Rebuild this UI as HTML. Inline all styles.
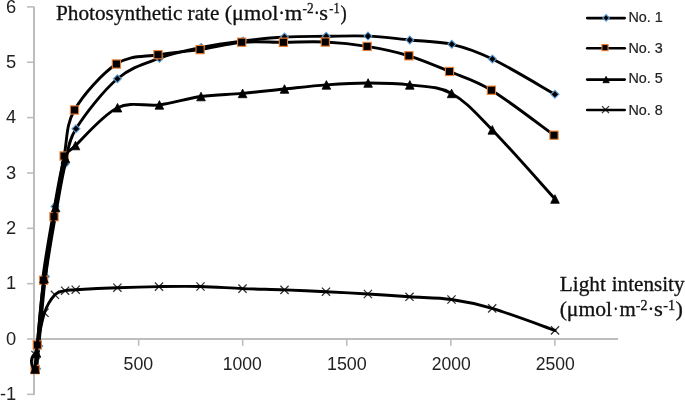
<!DOCTYPE html>
<html><head><meta charset="utf-8"><style>
html,body{margin:0;padding:0;background:#fff;}
body{width:685px;height:400px;overflow:hidden;position:relative;}
svg{position:absolute;left:0;top:0;will-change:transform;}
.ax{stroke:#bdbdbd;stroke-width:2;fill:none;}
.tk{stroke:#bdbdbd;stroke-width:1.6;fill:none;}
.ln{stroke:#000;stroke-width:2.9;fill:none;stroke-linejoin:round;stroke-linecap:round;}
.lg{stroke:#000;stroke-width:2.6;fill:none;stroke-linecap:round;}
.dm{fill:#000;stroke:#5b9bd5;stroke-width:1.1;}
.sq{fill:#000;stroke:#ed7d31;stroke-width:1.1;}
.tr{fill:#000;stroke:#000;stroke-width:0.8;}
.xm{stroke:#333;stroke-width:1.3;fill:none;}
.yl{font-family:"Liberation Sans",sans-serif;font-size:18.3px;fill:#222;text-anchor:end;}
.xl{font-family:"Liberation Sans",sans-serif;fill:#222;}
.lt{font-family:"Liberation Sans",sans-serif;fill:#222;stroke:#222;stroke-width:0.2px;}
.tt{font-family:"Liberation Serif",serif;font-size:20px;fill:#111;stroke:#111;stroke-width:0.3px;}
.sup{font-size:13px;}
</style></head><body>
<svg width="685" height="400" viewBox="0 0 685 400">
<line x1="34" y1="6.75" x2="34" y2="395" class="ax"/>
<line x1="33" y1="339" x2="618" y2="339" class="ax"/>
<line x1="27" y1="394.35" x2="34" y2="394.35" class="tk"/>
<line x1="27" y1="339.00" x2="34" y2="339.00" class="tk"/>
<line x1="27" y1="283.65" x2="34" y2="283.65" class="tk"/>
<line x1="27" y1="228.30" x2="34" y2="228.30" class="tk"/>
<line x1="27" y1="172.95" x2="34" y2="172.95" class="tk"/>
<line x1="27" y1="117.60" x2="34" y2="117.60" class="tk"/>
<line x1="27" y1="62.25" x2="34" y2="62.25" class="tk"/>
<line x1="27" y1="6.90" x2="34" y2="6.90" class="tk"/>
<line x1="138.65" y1="339" x2="138.65" y2="345.8" class="tk"/>
<line x1="242.70" y1="339" x2="242.70" y2="345.8" class="tk"/>
<line x1="346.75" y1="339" x2="346.75" y2="345.8" class="tk"/>
<line x1="450.80" y1="339" x2="450.80" y2="345.8" class="tk"/>
<line x1="554.85" y1="339" x2="554.85" y2="345.8" class="tk"/>
<path d="M31.40 350.90L39.60 359.10M31.40 359.10L39.60 350.90" class="xm"/>
<path d="M33.20 340.90L41.40 349.10M33.20 349.10L41.40 340.90" class="xm"/>
<path d="M40.40 308.65L48.60 316.85M40.40 316.85L48.60 308.65" class="xm"/>
<path d="M50.80 290.70L59.00 298.90M50.80 298.90L59.00 290.70" class="xm"/>
<path d="M61.00 286.60L69.20 294.80M61.00 294.80L69.20 286.60" class="xm"/>
<path d="M71.60 285.60L79.80 293.80M71.60 293.80L79.80 285.60" class="xm"/>
<path d="M113.30 283.60L121.50 291.80M113.30 291.80L121.50 283.60" class="xm"/>
<path d="M154.90 282.50L163.10 290.70M154.90 290.70L163.10 282.50" class="xm"/>
<path d="M196.40 282.40L204.60 290.60M196.40 290.60L204.60 282.40" class="xm"/>
<path d="M238.40 284.50L246.60 292.70M238.40 292.70L246.60 284.50" class="xm"/>
<path d="M280.40 285.80L288.60 294.00M280.40 294.00L288.60 285.80" class="xm"/>
<path d="M321.90 287.60L330.10 295.80M321.90 295.80L330.10 287.60" class="xm"/>
<path d="M363.80 289.90L372.00 298.10M363.80 298.10L372.00 289.90" class="xm"/>
<path d="M405.40 292.70L413.60 300.90M405.40 300.90L413.60 292.70" class="xm"/>
<path d="M447.40 295.40L455.60 303.60M447.40 303.60L455.60 295.40" class="xm"/>
<path d="M488.10 304.30L496.30 312.50M488.10 312.50L496.30 304.30" class="xm"/>
<path d="M550.90 326.30L559.10 334.50M550.90 334.50L559.10 326.30" class="xm"/>
<path d="M35.50 355.00 C35.80 353.33 35.80 352.04 37.30 345.00 C38.80 337.96 41.57 321.12 44.50 312.75 C47.43 304.38 51.47 298.48 54.90 294.80 C58.33 291.12 61.63 291.55 65.10 290.70 C68.57 289.85 66.98 290.20 75.70 289.70 C84.42 289.20 103.52 288.22 117.40 287.70 C131.28 287.18 145.15 286.80 159.00 286.60 C172.85 286.40 186.58 286.17 200.50 286.50 C214.42 286.83 228.50 288.03 242.50 288.60 C256.50 289.17 270.58 289.38 284.50 289.90 C298.42 290.42 312.10 291.02 326.00 291.70 C339.90 292.38 353.98 293.15 367.90 294.00 C381.82 294.85 395.57 295.88 409.50 296.80 C423.43 297.72 437.72 297.57 451.50 299.50 C465.28 301.43 474.95 303.25 492.20 308.40 C509.45 313.55 544.53 326.73 555.00 330.40" class="ln"/>
<path d="M36.70 368.70 C37.05 364.92 37.35 361.37 38.80 346.00 C40.25 330.63 42.70 299.75 45.40 276.50 C48.10 253.25 51.73 225.25 55.00 206.50 C58.27 187.75 61.50 176.95 65.00 164.00 C68.50 151.05 67.27 143.01 76.00 128.80 C84.73 114.59 103.48 90.52 117.40 78.75 C131.32 66.98 145.53 63.41 159.50 58.20 C173.47 52.99 187.28 50.37 201.20 47.50 C215.12 44.63 229.12 42.75 243.00 41.00 C256.88 39.25 270.63 37.78 284.50 37.00 C298.37 36.22 312.28 36.45 326.20 36.30 C340.12 36.15 354.07 35.48 368.00 36.10 C381.93 36.72 395.83 38.63 409.80 40.00 C423.77 41.37 438.03 41.13 451.80 44.30 C465.57 47.47 475.22 50.67 492.40 59.00 C509.58 67.33 544.48 88.42 554.90 94.30" class="ln"/>
<path d="M36.70 364.75L40.65 368.70L36.70 372.65L32.75 368.70Z" class="dm"/>
<path d="M38.80 342.05L42.75 346.00L38.80 349.95L34.85 346.00Z" class="dm"/>
<path d="M45.40 272.55L49.35 276.50L45.40 280.45L41.45 276.50Z" class="dm"/>
<path d="M55.00 202.55L58.95 206.50L55.00 210.45L51.05 206.50Z" class="dm"/>
<path d="M65.00 160.05L68.95 164.00L65.00 167.95L61.05 164.00Z" class="dm"/>
<path d="M76.00 124.85L79.95 128.80L76.00 132.75L72.05 128.80Z" class="dm"/>
<path d="M117.40 74.80L121.35 78.75L117.40 82.70L113.45 78.75Z" class="dm"/>
<path d="M159.50 54.25L163.45 58.20L159.50 62.15L155.55 58.20Z" class="dm"/>
<path d="M201.20 43.55L205.15 47.50L201.20 51.45L197.25 47.50Z" class="dm"/>
<path d="M243.00 37.05L246.95 41.00L243.00 44.95L239.05 41.00Z" class="dm"/>
<path d="M284.50 33.05L288.45 37.00L284.50 40.95L280.55 37.00Z" class="dm"/>
<path d="M326.20 32.35L330.15 36.30L326.20 40.25L322.25 36.30Z" class="dm"/>
<path d="M368.00 32.15L371.95 36.10L368.00 40.05L364.05 36.10Z" class="dm"/>
<path d="M409.80 36.05L413.75 40.00L409.80 43.95L405.85 40.00Z" class="dm"/>
<path d="M451.80 40.35L455.75 44.30L451.80 48.25L447.85 44.30Z" class="dm"/>
<path d="M492.40 55.05L496.35 59.00L492.40 62.95L488.45 59.00Z" class="dm"/>
<path d="M554.90 90.35L558.85 94.30L554.90 98.25L550.95 94.30Z" class="dm"/>
<path d="M44.00 278.50 C47.18 254.25 52.02 227.50 55.60 207.50 C59.18 187.50 62.18 168.83 65.50 158.50" class="ln" style="stroke-width:5.4"/>
<path d="M35.20 369.60 C35.55 365.48 35.90 359.80 37.30 344.90 C38.70 330.00 40.82 301.57 43.60 280.20 C46.38 258.83 50.58 237.40 54.00 216.70 C57.42 196.00 60.68 173.78 64.10 156.00 C67.52 138.22 65.78 125.33 74.50 110.00 C83.22 94.67 102.48 73.22 116.40 64.00 C130.32 54.78 144.05 57.10 158.00 54.70 C171.95 52.30 186.15 51.68 200.10 49.60 C214.05 47.52 227.82 43.43 241.70 42.20 C255.58 40.98 269.47 42.27 283.40 42.25 C297.33 42.23 311.35 41.36 325.30 42.05 C339.25 42.74 353.17 44.11 367.10 46.40 C381.03 48.69 395.17 51.62 408.90 55.80 C422.63 59.98 435.75 65.77 449.50 71.50 C463.25 77.23 473.98 79.58 491.40 90.20 C508.82 100.82 543.57 127.70 554.00 135.20" class="ln"/>
<rect x="31.10" y="365.50" width="8.20" height="8.20" class="sq"/>
<rect x="33.20" y="340.80" width="8.20" height="8.20" class="sq"/>
<rect x="39.50" y="276.10" width="8.20" height="8.20" class="sq"/>
<rect x="49.90" y="212.60" width="8.20" height="8.20" class="sq"/>
<rect x="60.00" y="151.90" width="8.20" height="8.20" class="sq"/>
<rect x="70.40" y="105.90" width="8.20" height="8.20" class="sq"/>
<rect x="112.30" y="59.90" width="8.20" height="8.20" class="sq"/>
<rect x="153.90" y="50.60" width="8.20" height="8.20" class="sq"/>
<rect x="196.00" y="45.50" width="8.20" height="8.20" class="sq"/>
<rect x="237.60" y="38.10" width="8.20" height="8.20" class="sq"/>
<rect x="279.30" y="38.15" width="8.20" height="8.20" class="sq"/>
<rect x="321.20" y="37.95" width="8.20" height="8.20" class="sq"/>
<rect x="363.00" y="42.30" width="8.20" height="8.20" class="sq"/>
<rect x="404.80" y="51.70" width="8.20" height="8.20" class="sq"/>
<rect x="445.40" y="67.40" width="8.20" height="8.20" class="sq"/>
<rect x="487.30" y="86.10" width="8.20" height="8.20" class="sq"/>
<rect x="549.90" y="131.10" width="8.20" height="8.20" class="sq"/>
<path d="M35.00 369.00 C35.25 366.33 35.00 368.08 36.50 353.00 C38.00 337.92 40.82 302.75 44.00 278.50 C47.18 254.25 52.02 227.50 55.60 207.50 C59.18 187.50 62.18 168.83 65.50 158.50 C68.82 148.17 66.83 153.97 75.50 145.50 C84.17 137.03 103.52 114.47 117.50 107.70 C131.48 100.93 145.48 106.77 159.40 104.90 C173.32 103.03 187.13 98.42 201.00 96.50 C214.87 94.58 228.68 94.65 242.60 93.40 C256.52 92.15 270.53 90.42 284.50 89.00 C298.47 87.58 312.47 85.90 326.40 84.90 C340.33 83.90 354.20 83.00 368.10 83.00 C382.00 83.00 395.88 83.17 409.80 84.90 C423.72 86.63 437.85 85.90 451.60 93.40 C465.35 100.90 475.07 112.30 492.30 129.90 C509.53 147.50 544.55 187.48 555.00 199.00" class="ln"/>
<path d="M36.5 353.5 C31.5 355 30.8 361 31.8 364.5 C32.3 366.5 33.5 368 35 369" class="ln"/>
<path d="M35.00 364.70L39.30 373.30L30.70 373.30Z" class="tr"/>
<path d="M36.50 348.70L40.80 357.30L32.20 357.30Z" class="tr"/>
<path d="M44.00 274.20L48.30 282.80L39.70 282.80Z" class="tr"/>
<path d="M55.60 203.20L59.90 211.80L51.30 211.80Z" class="tr"/>
<path d="M65.50 154.20L69.80 162.80L61.20 162.80Z" class="tr"/>
<path d="M75.50 141.20L79.80 149.80L71.20 149.80Z" class="tr"/>
<path d="M117.50 103.40L121.80 112.00L113.20 112.00Z" class="tr"/>
<path d="M159.40 100.60L163.70 109.20L155.10 109.20Z" class="tr"/>
<path d="M201.00 92.20L205.30 100.80L196.70 100.80Z" class="tr"/>
<path d="M242.60 89.10L246.90 97.70L238.30 97.70Z" class="tr"/>
<path d="M284.50 84.70L288.80 93.30L280.20 93.30Z" class="tr"/>
<path d="M326.40 80.60L330.70 89.20L322.10 89.20Z" class="tr"/>
<path d="M368.10 78.70L372.40 87.30L363.80 87.30Z" class="tr"/>
<path d="M409.80 80.60L414.10 89.20L405.50 89.20Z" class="tr"/>
<path d="M451.60 89.10L455.90 97.70L447.30 97.70Z" class="tr"/>
<path d="M492.30 125.60L496.60 134.20L488.00 134.20Z" class="tr"/>
<path d="M555.00 194.70L559.30 203.30L550.70 203.30Z" class="tr"/>

<path d="M602.00 106.10L609.00 113.10M602.00 113.10L609.00 106.10" class="xm"/>
<line x1="587.2" y1="18.10" x2="624.7" y2="18.10" class="lg"/>
<path d="M606.10 14.60L609.40 17.90L606.10 21.20L602.80 17.90Z" class="dm"/>
<line x1="587.2" y1="48.20" x2="624.7" y2="48.20" class="lg"/>
<rect x="601.95" y="44.55" width="6.10" height="6.10" class="sq"/>
<line x1="587.2" y1="79.60" x2="624.7" y2="79.60" class="lg"/>
<path d="M606.10 76.30L609.30 82.70L602.90 82.70Z" class="tr"/>
<line x1="587.2" y1="110.00" x2="624.7" y2="110.00" class="lg"/>
<text x="16.2" y="399.95" class="yl">-1</text>
<text x="16.2" y="344.60" class="yl">0</text>
<text x="16.2" y="289.25" class="yl">1</text>
<text x="16.2" y="233.90" class="yl">2</text>
<text x="16.2" y="178.55" class="yl">3</text>
<text x="16.2" y="123.20" class="yl">4</text>
<text x="16.2" y="67.85" class="yl">5</text>
<text x="16.2" y="12.50" class="yl">6</text>
<text x="123.59" y="370.00" class="xl" style="font-size:18.30px" textLength="29.61" lengthAdjust="spacingAndGlyphs">500</text>
<text x="222.77" y="370.00" class="xl" style="font-size:18.30px" textLength="39.03" lengthAdjust="spacingAndGlyphs">1000</text>
<text x="326.94" y="370.00" class="xl" style="font-size:18.30px" textLength="39.87" lengthAdjust="spacingAndGlyphs">1500</text>
<text x="431.72" y="370.00" class="xl" style="font-size:18.30px" textLength="38.97" lengthAdjust="spacingAndGlyphs">2000</text>
<text x="535.82" y="370.00" class="xl" style="font-size:18.30px" textLength="39.07" lengthAdjust="spacingAndGlyphs">2500</text>
<text x="628.42" y="21.85" class="lt" style="font-size:14.00px" textLength="34.39" lengthAdjust="spacingAndGlyphs">No. 1</text>
<text x="628.42" y="52.90" class="lt" style="font-size:14.00px" textLength="34.31" lengthAdjust="spacingAndGlyphs">No. 3</text>
<text x="628.42" y="83.45" class="lt" style="font-size:14.00px" textLength="34.28" lengthAdjust="spacingAndGlyphs">No. 5</text>
<text x="628.42" y="114.65" class="lt" style="font-size:14.00px" textLength="34.30" lengthAdjust="spacingAndGlyphs">No. 8</text>
<text x="55.98" y="19.50" class="tt" style="font-size:21.00px" textLength="126.48" lengthAdjust="spacingAndGlyphs">Photosynthetic</text>
<text x="187.58" y="19.50" class="tt" style="font-size:21.00px" textLength="31.76" lengthAdjust="spacingAndGlyphs">rate</text>
<text x="224.73" y="19.50" class="tt" style="font-size:21.00px" textLength="53.71" lengthAdjust="spacingAndGlyphs">(&#956;mol</text>
<text x="278.24" y="19.50" class="tt" style="font-size:21.00px" textLength="6.72" lengthAdjust="spacingAndGlyphs">&#183;</text>
<text x="284.73" y="19.50" class="tt" style="font-size:21.00px" textLength="17.43" lengthAdjust="spacingAndGlyphs">m</text>
<text x="302.61" y="13.30" class="tt" style="font-size:14.00px" textLength="11.02" lengthAdjust="spacingAndGlyphs">-2</text>
<text x="313.82" y="19.50" class="tt" style="font-size:21.00px" textLength="6.16" lengthAdjust="spacingAndGlyphs">&#183;</text>
<text x="319.28" y="19.50" class="tt" style="font-size:21.00px" textLength="8.73" lengthAdjust="spacingAndGlyphs">s</text>
<text x="329.34" y="13.30" class="tt" style="font-size:14.00px" textLength="10.41" lengthAdjust="spacingAndGlyphs">-1</text>
<text x="340.60" y="19.50" class="tt" style="font-size:21.00px" textLength="6.22" lengthAdjust="spacingAndGlyphs">)</text>
<text x="559.78" y="291.00" class="tt" style="font-size:21.00px" textLength="46.13" lengthAdjust="spacingAndGlyphs">Light</text>
<text x="611.66" y="291.00" class="tt" style="font-size:21.00px" textLength="72.94" lengthAdjust="spacingAndGlyphs">intensity</text>
<text x="559.65" y="316.00" class="tt" style="font-size:21.00px" textLength="52.48" lengthAdjust="spacingAndGlyphs">(&#956;mol</text>
<text x="613.00" y="316.00" class="tt" style="font-size:21.00px" textLength="5.60" lengthAdjust="spacingAndGlyphs">&#183;</text>
<text x="619.46" y="316.00" class="tt" style="font-size:21.00px" textLength="16.27" lengthAdjust="spacingAndGlyphs">m</text>
<text x="635.78" y="310.20" class="tt" style="font-size:14.00px" textLength="11.69" lengthAdjust="spacingAndGlyphs">-2</text>
<text x="647.63" y="316.00" class="tt" style="font-size:21.00px" textLength="6.44" lengthAdjust="spacingAndGlyphs">&#183;</text>
<text x="653.97" y="316.00" class="tt" style="font-size:21.00px" textLength="8.86" lengthAdjust="spacingAndGlyphs">s</text>
<text x="663.27" y="310.20" class="tt" style="font-size:14.00px" textLength="11.88" lengthAdjust="spacingAndGlyphs">-1</text>
<text x="675.59" y="316.00" class="tt" style="font-size:21.00px" textLength="7.39" lengthAdjust="spacingAndGlyphs">)</text>
</svg>
</body></html>
